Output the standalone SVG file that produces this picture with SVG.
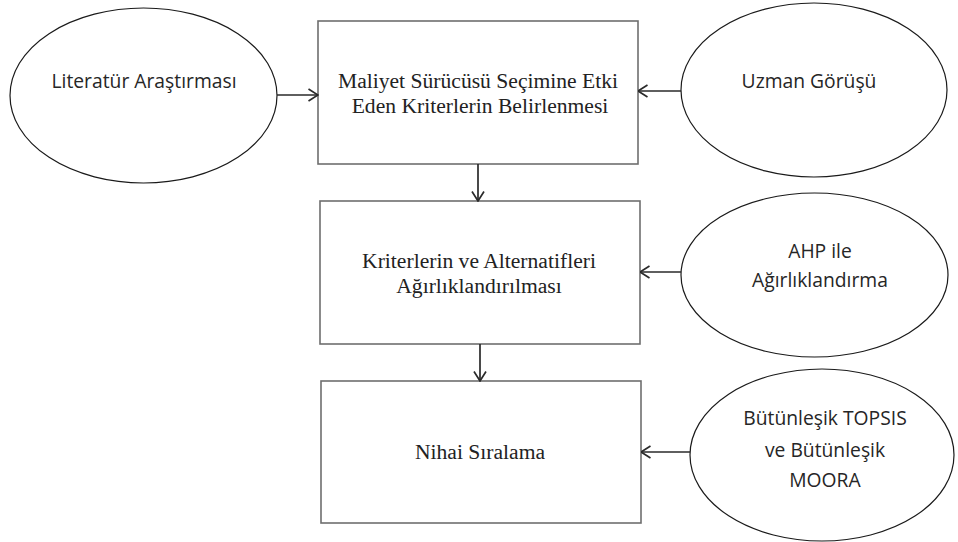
<svg xmlns="http://www.w3.org/2000/svg" width="958" height="542" viewBox="0 0 958 542">
<style>
.bg{fill:#ffffff}
.ell{fill:#ffffff;stroke:#1a1a1a;stroke-width:1.2}
.box{fill:#ffffff;stroke:#6e6e6e;stroke-width:1.6}
.sans{font-family:"Open Sans","Noto Sans","Liberation Sans",sans-serif;font-size:19.3px;fill:#262626;text-anchor:middle}
.serif{font-family:"Liberation Serif","DejaVu Serif",serif;font-size:21.6px;fill:#222222;text-anchor:middle}
.conn{stroke:#2a2a2a;stroke-width:1.7;fill:none}
</style>
<defs>
<marker id="arr" viewBox="0 0 11 14" refX="10.5" refY="7" markerWidth="11" markerHeight="14" markerUnits="userSpaceOnUse" orient="auto">
<path d="M1,1 L10.5,7 L1,13" fill="none" stroke="#2a2a2a" stroke-width="1.7"/>
</marker>
</defs>
<rect class="bg" x="0" y="0" width="958" height="542"/>

<g id="n-literatur">
<ellipse class="ell" cx="143.5" cy="95.5" rx="133.5" ry="87.5"/>
<text class="sans" x="144" y="88">Literatür Araştırması</text>
</g>

<g id="n-uzman">
<ellipse class="ell" cx="814" cy="90" rx="133" ry="87"/>
<text class="sans" x="809" y="88">Uzman Görüşü</text>
</g>

<g id="n-ahp">
<ellipse class="ell" cx="814.5" cy="275" rx="133.5" ry="82"/>
<text class="sans" x="820" y="258">AHP ile</text>
<text class="sans" x="820" y="287">Ağırlıklandırma</text>
</g>

<g id="n-topsis">
<ellipse class="ell" cx="822" cy="455" rx="132" ry="86"/>
<text class="sans" x="825" y="425">Bütünleşik TOPSIS</text>
<text class="sans" x="825" y="457">ve Bütünleşik</text>
<text class="sans" x="825" y="487">MOORA</text>
</g>

<g id="n-maliyet">
<rect class="box" x="318" y="21" width="320" height="143"/>
<text class="serif" x="478" y="88">Maliyet Sürücüsü Seçimine Etki</text>
<text class="serif" x="480" y="113">Eden Kriterlerin Belirlenmesi</text>
</g>

<g id="n-kriter">
<rect class="box" x="320" y="201" width="320" height="143"/>
<text class="serif" x="479" y="268">Kriterlerin ve Alternatifleri</text>
<text class="serif" x="479" y="293">Ağırlıklandırılması</text>
</g>

<g id="n-nihai">
<rect class="box" x="321" y="381" width="320" height="142"/>
<text class="serif" x="480" y="459">Nihai Sıralama</text>
</g>

<g id="connectors">
<line class="conn" x1="277" y1="95" x2="318" y2="95" marker-end="url(#arr)"/>
<line class="conn" x1="681" y1="91" x2="638" y2="91" marker-end="url(#arr)"/>
<line class="conn" x1="478" y1="164" x2="478" y2="201" marker-end="url(#arr)"/>
<line class="conn" x1="681" y1="272" x2="640" y2="272" marker-end="url(#arr)"/>
<line class="conn" x1="480" y1="344" x2="480" y2="381" marker-end="url(#arr)"/>
<line class="conn" x1="690" y1="452" x2="641" y2="452" marker-end="url(#arr)"/>
</g>
</svg>
